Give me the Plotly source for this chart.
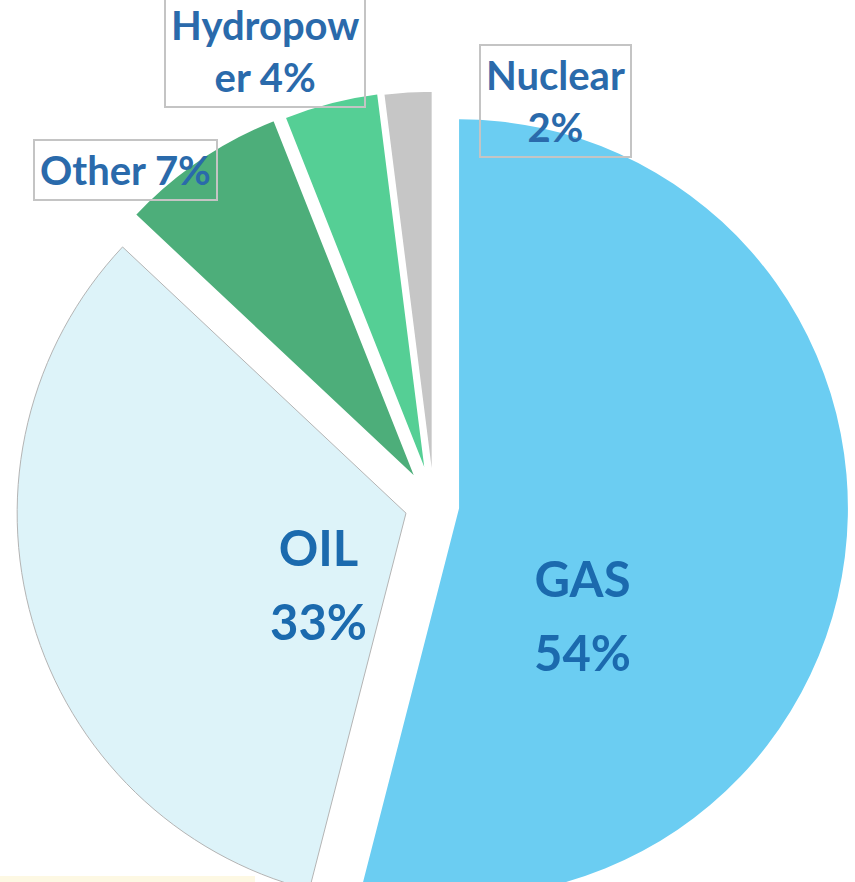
import plotly.graph_objects as go

# energy mix shares (%)
labels = ["GAS", "OIL", "Other", "Hydropower", "Nuclear"]
shares = [54, 33, 7, 4, 2]
slice_text = ["GAS<br>54%", "OIL<br>33%", "Other 7%", "Hydropow<br>er 4%", "Nuclear<br>2%"]

colors = ["#6bcdf2", "#ddf3f9", "#4dae7a", "#55cf95", "#c6c6c6"]
edge_colors = ["rgba(0,0,0,0)", "#b4b4b4", "white", "white", "white"]
edge_widths = [0, 1, 3, 3, 1.5]
pulls = [0.065, 0.075, 0.075, 0.07, 0.065]

W, H = 855, 1010  # pie hangs off the bottom of the window, as in the slide

fig = go.Figure(go.Pie(
    labels=labels,
    values=shares,
    textinfo="none",
    sort=False,
    direction="clockwise",
    rotation=0,
    pull=pulls,
    marker=dict(colors=colors, line=dict(color=edge_colors, width=edge_widths)),
    domain=dict(x=[0.0187, 0.9965], y=[0, 1]),
    showlegend=False,
    hoverinfo="label+percent",
))

# label placement (pixels from top-left of the window)
label_pos = {
    "GAS": (582, 615),
    "OIL": (318, 584),
    "Other": (126, 170),
    "Hydropower": (265, 51),
    "Nuclear": (555, 101),
}
boxed = {"Other", "Hydropower", "Nuclear"}

for lab, txt in zip(labels, slice_text):
    px, py = label_pos[lab]
    if lab in boxed:
        fig.add_annotation(
            x=px / W, y=1 - py / H, xref="paper", yref="paper",
            xanchor="center", yanchor="middle",
            text=txt, showarrow=False,
            font=dict(family="Lato", size=40, color="#2a6aab", weight="bold"),
            bordercolor="#c4c4c4", borderwidth=2, borderpad=5,
        )
    else:
        # larger line gap than the glyph size, as in the original slide
        lines = txt.split("<br>")
        html = "<br>".join(f"<span style='font-size:49px'>{s}</span>" for s in lines)
        fig.add_annotation(
            x=px / W, y=1 - py / H, xref="paper", yref="paper",
            xanchor="center", yanchor="middle",
            text=html, showarrow=False,
            font=dict(family="Lato", size=57, color="#1b6aae", weight="bold"),
        )

# thin cream strip along the bottom-left edge of the slide
fig.add_shape(type="rect", xref="paper", yref="paper",
              x0=0, x1=255 / W, y0=1 - 882 / H, y1=1 - 876 / H,
              fillcolor="#fdf8e3", line=dict(width=0), layer="below")

fig.update_layout(
    width=W, height=H,
    margin=dict(l=0, r=0, t=0, b=0),
    paper_bgcolor="white",
    plot_bgcolor="white",
)

fig.write_html("out.html", config={"displayModeBar": False},
               post_script="document.body.style.margin='0';document.body.style.overflow='hidden';")
